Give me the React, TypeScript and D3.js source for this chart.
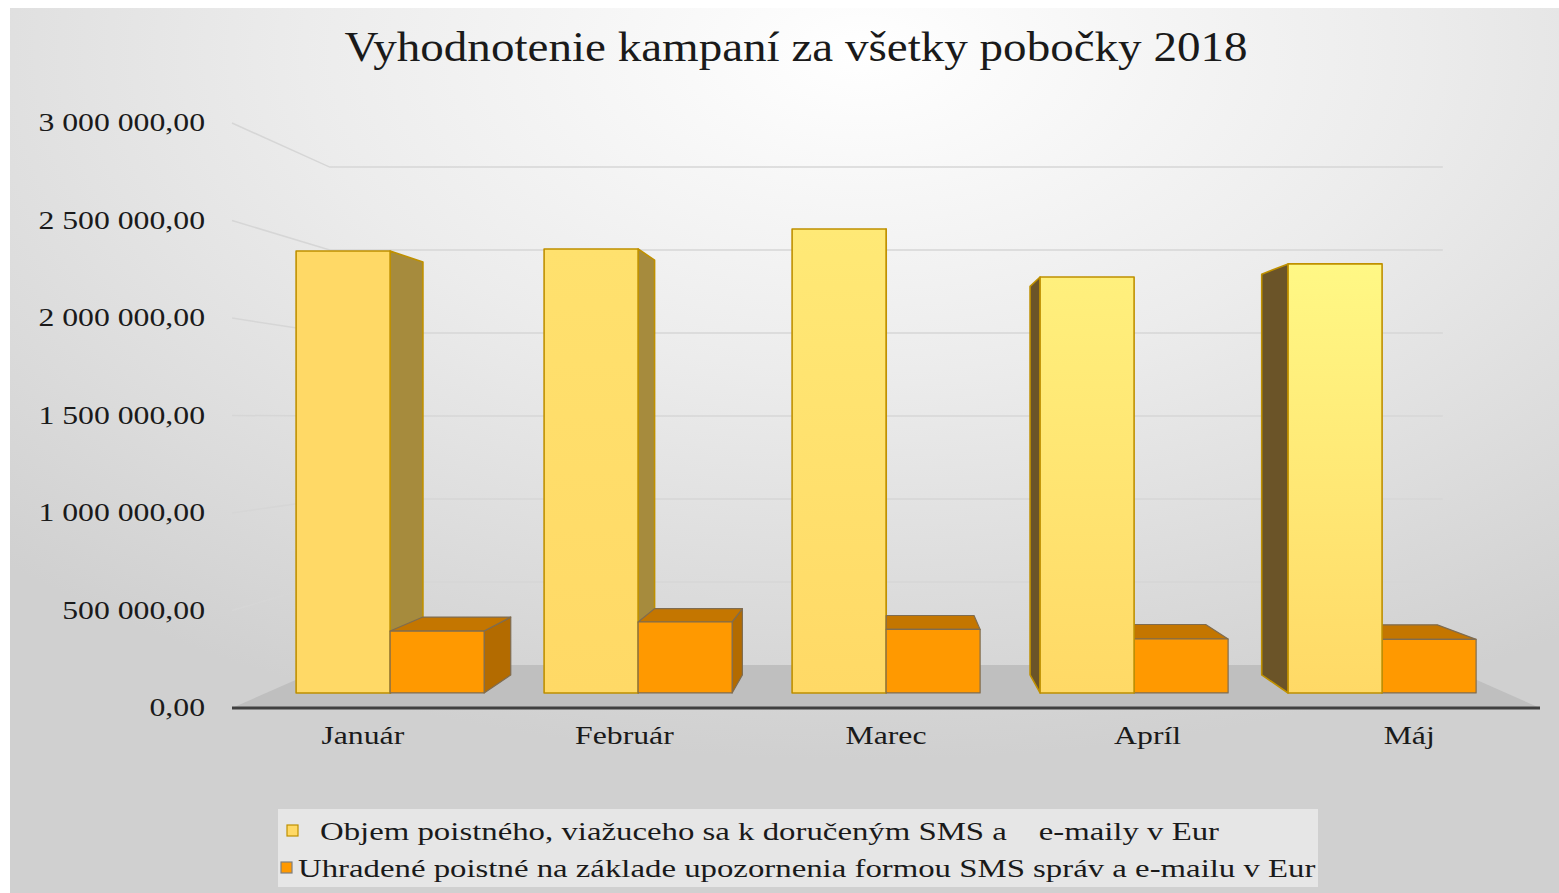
import { useEffect, useRef } from 'react';
import * as d3 from 'd3';

const title = 'Vyhodnotenie kampaní za všetky pobočky 2018';
const categories = ['Január', 'Február', 'Marec', 'Apríl', 'Máj'];
const objemPoistneho = [2391000, 2402000, 2510000, 2250000, 2321000];
const uhradenePoistne = [335000, 384000, 344000, 292000, 290000];
const yTicks = [0, 500000, 1000000, 1500000, 2000000, 2500000, 3000000];
const legendLabels = [
  ['Objem poistného, viažuceho sa k doručeným SMS a', 'e-maily v Eur'],
  ['Uhradené poistné na základe upozornenia formou SMS správ a e-mailu v Eur'],
];

const W = 1559;
const H = 893;
const FONT = '"Liberation Serif", "Times New Roman", serif';
// perspektiva: ubeznik a hlbky (1 = predna rovina osi)
const VX = 888;
const VY = 419;
const S_BACK = 0.851;
const S_FRONT = 0.948;
const S_REAR = 0.8855;
const STRETCH = 1.27;

interface Bar {
  i: number;
  k: number;
  v: number;
  x0: number;
  x1: number;
}

const App = () => {
  const svgRef = useRef<SVGSVGElement | null>(null);

  useEffect(() => {
    if (!svgRef.current) return;
    const svg = d3.select(svgRef.current);
    svg.selectAll('*').remove();

    const x = d3.scaleBand<string>().domain(categories).range([232, 1540]);
    const inner = d3.scaleBand<number>().domain([0, 1]).range([0, x.bandwidth()])
      .paddingInner(0).paddingOuter(0.319);
    const y = d3.scaleLinear().domain([0, 3000000]).range([708, 123]);
    const fmt = d3.formatLocale({ decimal: ',', thousands: ' ', grouping: [3], currency: ['', ''] }).format(',.2f');
    const proj = (px: number, py: number, s: number): [number, number] =>
      [VX + s * (px - VX), VY + s * (py - VY)];
    const poly = d3.line().curve(d3.curveLinearClosed);

    const defs = svg.append('defs');
    const bg = defs.append('radialGradient').attr('id', 'bg')
      .attr('cx', 0.55).attr('cy', 0.05).attr('r', 0.8);
    bg.append('stop').attr('offset', 0).attr('stop-color', '#ffffff');
    bg.append('stop').attr('offset', 0.45).attr('stop-color', '#ececec');
    bg.append('stop').attr('offset', 1).attr('stop-color', '#d0d0d0');

    svg.append('rect').attr('width', W).attr('height', H).attr('fill', '#ffffff');
    svg.append('rect').attr('x', 10).attr('y', 8).attr('width', W - 10).attr('height', H - 8)
      .attr('fill', 'url(#bg)');

    // titulok
    svg.append('text')
      .attr('x', 796).attr('y', 61)
      .attr('text-anchor', 'middle')
      .attr('font-family', FONT).attr('font-size', 42)
      .attr('textLength', 903).attr('lengthAdjust', 'spacingAndGlyphs')
      .attr('fill', '#1a1a1a')
      .text(title);

    // mriezka: bocna stena + zadna stena
    const [xl, xr] = x.range();
    yTicks.filter(t => t > 0).forEach(t => {
      const back0 = proj(xl, y(t), S_BACK);
      const back1 = proj(xr, y(t), S_BACK);
      svg.append('path')
        .attr('d', `M${xl},${y(t)}L${back0[0]},${back0[1]}L${back1[0]},${back1[1]}`)
        .attr('fill', 'none').attr('stroke', '#d6d6d6').attr('stroke-width', 1.5);
    });

    // podlaha
    svg.append('path')
      .attr('d', poly([proj(xl, y(0), 1), proj(xr, y(0), 1), proj(xr, y(0), S_BACK), proj(xl, y(0), S_BACK)]))
      .attr('fill', '#bfbfbf');
    svg.append('line')
      .attr('x1', xl).attr('x2', xr).attr('y1', y(0)).attr('y2', y(0))
      .attr('stroke', '#404040').attr('stroke-width', 3);

    // stlpce
    const topColor = d3.interpolateRgb('#ffd966', '#fff885');
    categories.forEach((c, i) => {
      const g = defs.append('linearGradient').attr('id', `yel${i}`)
        .attr('x1', 0).attr('y1', 0).attr('x2', 0).attr('y2', 1);
      g.append('stop').attr('offset', 0).attr('stop-color', topColor(i / (categories.length - 1)));
      g.append('stop').attr('offset', 1).attr('stop-color', '#ffd966');
    });

    const bars: Bar[] = [];
    categories.forEach((c, i) => {
      [objemPoistneho[i], uhradenePoistne[i]].forEach((v, k) => {
        const x0 = (x(c) ?? 0) + (inner(k) ?? 0);
        bars.push({ i, k, v, x0, x1: x0 + inner.bandwidth() });
      });
    });
    bars.sort((a, b) => Math.abs((b.x0 + b.x1) / 2 - VX) - Math.abs((a.x0 + a.x1) / 2 - VX));

    const gBars = svg.append('g');
    bars.forEach(b => {
      const yt = y(b.v);
      const yb = y(0);
      const yellow = b.k === 0;
      const stroke = yellow ? '#bf9000' : '#7f6c50';
      const sw = yellow ? 1.6 : 1.2;
      const g = gBars.append('g').attr('stroke', stroke).attr('stroke-width', sw).attr('stroke-linejoin', 'round');

      // bocna strana
      if (b.x1 < VX) {
        g.append('path')
          .attr('d', poly([proj(b.x1, yt, S_FRONT), proj(b.x1, yt, S_REAR), proj(b.x1, yb, S_REAR), proj(b.x1, yb, S_FRONT)]))
          .attr('fill', yellow ? '#a68b3d' : '#b36b00');
      } else if (b.x0 > VX) {
        g.append('path')
          .attr('d', poly([proj(b.x0, yt, S_FRONT), proj(b.x0, yt, S_REAR), proj(b.x0, yb, S_REAR), proj(b.x0, yb, S_FRONT)]))
          .attr('fill', yellow ? '#6b5428' : '#a86400');
      }
      // vrch
      if (yt > VY) {
        g.append('path')
          .attr('d', poly([proj(b.x0, yt, S_FRONT), proj(b.x1, yt, S_FRONT), proj(b.x1, yt, S_REAR), proj(b.x0, yt, S_REAR)]))
          .attr('fill', yellow ? '#c9a93f' : '#c47600');
      }
      // predna strana
      const p0 = proj(b.x0, yt, S_FRONT);
      const p1 = proj(b.x1, yb, S_FRONT);
      g.append('rect')
        .attr('x', p0[0]).attr('y', p0[1])
        .attr('width', p1[0] - p0[0]).attr('height', p1[1] - p0[1])
        .attr('fill', yellow ? `url(#yel${b.i})` : '#ff9900');
    });

    // osi
    const label = (txt: string, lx: number, ly: number, anchor: string, sx = STRETCH) =>
      svg.append('text')
        .attr('transform', `translate(${lx},${ly}) scale(${sx},1)`)
        .attr('text-anchor', anchor)
        .attr('font-family', FONT).attr('font-size', 25)
        .attr('fill', '#1a1a1a')
        .text(txt);
    yTicks.forEach(t => label(fmt(t), 205, y(t) + 8, 'end'));
    categories.forEach(c => label(c, (x(c) ?? 0) + x.bandwidth() / 2, 744, 'middle'));

    // legenda
    svg.append('rect').attr('x', 278).attr('y', 809).attr('width', 1040).attr('height', 78)
      .attr('fill', '#e6e6e6');
    svg.append('rect').attr('x', 287).attr('y', 825).attr('width', 11).attr('height', 11)
      .attr('fill', '#ffd966').attr('stroke', '#bf9000').attr('stroke-width', 1.2);
    svg.append('rect').attr('x', 281).attr('y', 862).attr('width', 11).attr('height', 11)
      .attr('fill', '#ff9900').attr('stroke', '#7f7f7f').attr('stroke-width', 1.2);

    // spolocne natiahnutie pisma podla druheho riadku (298..1316)
    const row2 = label(legendLabels[1][0], 298, 877, 'start', 1);
    const natural = (row2.node() as SVGTextElement).getComputedTextLength() || 800;
    const sx = 1018 / natural;
    row2.attr('transform', `translate(298,877) scale(${sx},1)`);
    label(legendLabels[0][0], 320, 840, 'start', sx);
    label(legendLabels[0][1], 1219, 840, 'end', sx);
  }, []);

  return (
    <svg ref={svgRef} width={W} height={H}
      style={{ position: 'absolute', left: 0, top: 0, display: 'block' }} />
  );
};

export default App;
